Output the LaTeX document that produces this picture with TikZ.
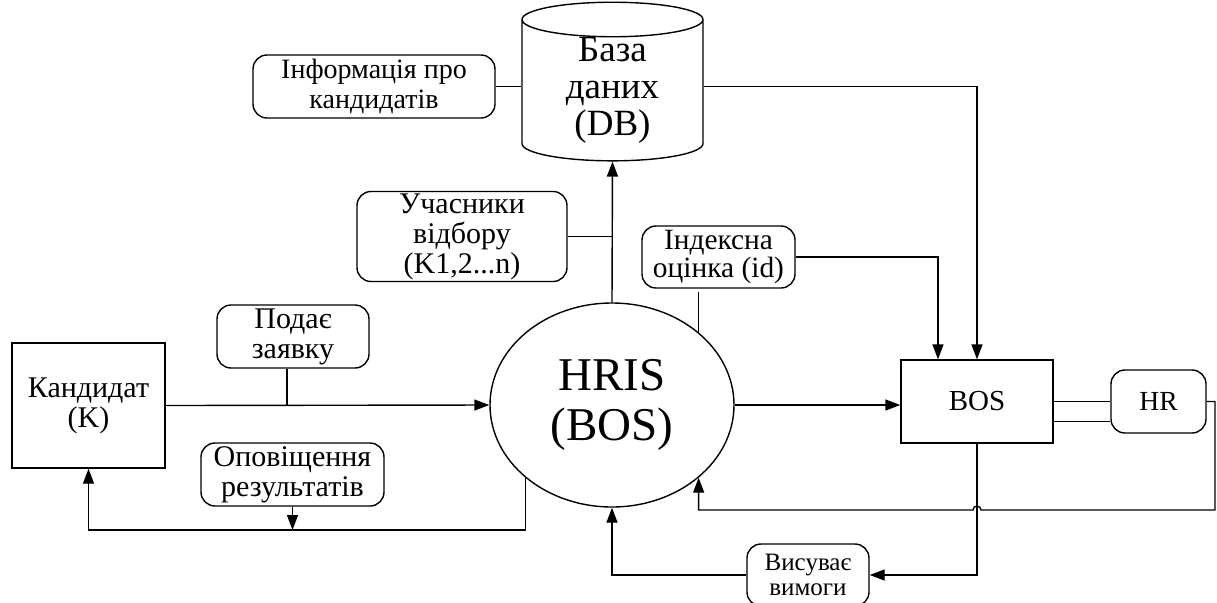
\documentclass[tikz,border=0pt]{standalone}
\usepackage{fontspec}
\setmainfont{Liberation Serif}
\usetikzlibrary{shapes.geometric,arrows.meta,calc}

\tikzset{
  lbl/.style={draw, rounded corners=7pt, align=center, inner sep=1pt, font=\fontsize{15}{15}\selectfont},
  blok/.style={draw, align=center, inner sep=1pt, font=\fontsize{15}{15}\selectfont},
  arr/.style={-{Triangle[length=7.5pt,width=5.5pt]}},
}

\begin{document}
\begin{tikzpicture}[x=0.5pt,y=-0.5pt,line width=0.7pt]
\useasboundingbox (0,0) rectangle (1217,602);

% База даних
\node[draw, cylinder, shape border rotate=90, aspect=0.37, minimum width=90.5pt, minimum height=75pt,
      align=center, inner sep=0pt, font=\fontsize{18.5}{18.5}\selectfont] (db) at (612.5,90.5) {База\\даних\\(DB)};
\node[lbl, minimum width=121pt, minimum height=31.5pt, font=\fontsize{14}{15}\selectfont] (info) at (374,86.5) {Інформація про\\кандидатів};

% Мітки
\node[lbl, minimum width=105pt, minimum height=43.5pt] (uch) at (462,236.5) {Учасники\\відбору\\(K1,2...n)};
\node[lbl, minimum width=76.5pt, minimum height=31pt, font=\fontsize{14.7}{14}\selectfont] (idx) at (718.5,257) {Індексна\\оцінка (id)};
\node[lbl, minimum width=76pt, minimum height=31.5pt] (pod) at (293,336.5) {Подає\\заявку};
\node[lbl, minimum width=91.5pt, minimum height=31.5pt] (opov) at (292.5,474.5) {Оповіщення\\результатів};
\node[lbl, minimum width=61pt, minimum height=31pt, font=\fontsize{12.5}{12.5}\selectfont] (vys) at (808,575) {Висуває\\вимоги};

% Блоки
\node[blok, minimum width=76.5pt, minimum height=62.5pt] (cand) at (88.5,405.5) {Кандидат\\(K)};
\node[draw, ellipse, minimum width=122pt, minimum height=102pt, inner sep=0pt, align=center,
      font=\fontsize{23.5}{25}\selectfont] (hris) at (612,405) {HRIS\\(BOS)};
\node[blok, minimum width=76pt, minimum height=41.5pt, font=\fontsize{14.5}{15}\selectfont] (bos) at (977,401.5) {BOS};
\node[lbl, minimum width=47.5pt, minimum height=31.5pt, font=\fontsize{13.8}{14}\selectfont] (hr) at (1158.5,401.5) {HR};

% Зв'язки
\coordinate (low) at (0,530);
\coordinate (back) at (1215,510);
\coordinate (podx) at ($(pod.south)+(-6,0)$);
\draw (info.east) -- (info.east -| db.west);
\draw[arr] (info.east -| db.east) -| (bos.north);
\draw[arr] (hris.north) -- (db.south);
\draw (uch.east) -- (uch.east -| hris.north);
\draw (hris.40) -- ++(0,-40);
\draw[arr] (idx.east) -| ($(bos.north)+(-39,0)$);
\draw[arr] (cand.east) -- (hris.west);
\draw (podx) -- (podx |- cand.east);
\draw[arr] (hris.220) -- (hris.220 |- low) -| (cand.south);
\draw[arr] (opov.south) -- (opov.south |- low);
\draw[arr] (hris.east) -- (hris.east -| bos.west);
\draw (bos.east) -- (hr.west);
\draw ($(bos.east)+(0,20)$) -- ($(hr.west)+(0,20)$);
\draw[arr] (hr.east) -| (back) -- ($(bos.south |- back)+(4,0)$) arc[start angle=0, end angle=-180, radius=4]
  -- (hris.-40 |- back) -- (hris.-40);
\draw[arr] (bos.south) |- (vys.east);
\draw[arr] (vys.west) -| (hris.south);

\end{tikzpicture}
\end{document}
